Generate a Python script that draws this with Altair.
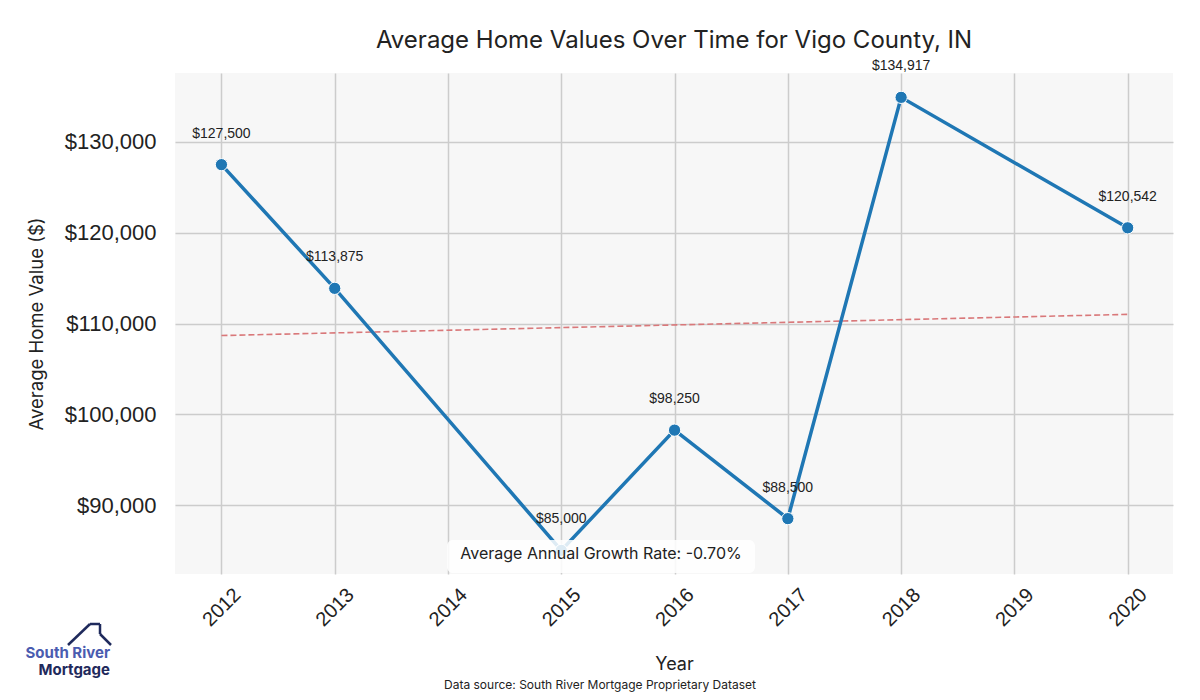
import altair as alt
import pandas as pd

years = [2012, 2013, 2015, 2016, 2017, 2018, 2020]
values = [127500, 113875, 85000, 98250, 88500, 134917, 120542]
tick_years = [2012, 2013, 2014, 2015, 2016, 2017, 2018, 2019, 2020]
y_ticks = [90000, 100000, 110000, 120000, 130000]
growth_text = "Average Annual Growth Rate: -0.70%"
source_text = "Data source: South River Mortgage Proprietary Dataset"

df = pd.DataFrame({"year": years, "value": values})

W, H = 998, 501
LABEL_FONT = "Liberation Sans"
TITLE_FONT = "Inter"

x_enc = alt.X("year:Q", scale=alt.Scale(domain=[2011.59, 2020.4], nice=False, zero=False),
              axis=alt.Axis(values=tick_years, format="d", labelAngle=-45, labelAlign="center",
                            labelBaseline="middle", labelPadding=33, labelFontSize=20,
                            labelFont=LABEL_FONT, labelColor="#222222", ticks=False, domain=False,
                            grid=True, gridColor="#cccccc", gridWidth=1.5,
                            title="Year", titleFontSize=18, titleFont=TITLE_FONT,
                            titleFontWeight="normal", titleColor="#222222", titlePadding=26))
y_enc = alt.Y("value:Q", scale=alt.Scale(domain=[82400, 137600], nice=False, zero=False),
              axis=alt.Axis(values=y_ticks, format="$,.0f", labelFontSize=22, labelFont=LABEL_FONT,
                            labelColor="#222222", labelPadding=19, ticks=False, domain=False,
                            grid=True, gridColor="#cccccc", gridWidth=1.5,
                            title="Average Home Value ($)", titleFontSize=18.5, titleFont=TITLE_FONT,
                            titleFontWeight="normal", titleColor="#222222", titlePadding=18))

base = alt.Chart(df)

trend = base.transform_regression("year", "value").mark_line(
    color="#d9787a", strokeWidth=1.6, strokeDash=[6, 3]
).encode(x=x_enc, y=y_enc)

line = base.mark_line(color="#1f77b4", strokeWidth=3.5).encode(x=x_enc, y=y_enc)
pts = base.mark_point(filled=True, size=150, color="#1f77b4", stroke="white",
                      strokeWidth=1, opacity=1).encode(x=x_enc, y=y_enc)
labels = base.mark_text(dy=-31, fontSize=14, font=LABEL_FONT, color="#222222").encode(
    x=x_enc, y=y_enc, text=alt.Text("value:Q", format="$,.0f"))

one = alt.Data(values=[{"a": 1}])

box = alt.Chart(one).mark_rect(fill="white", opacity=0.85, cornerRadius=6).encode(
    x=alt.value(272), x2=alt.value(580), y=alt.value(467), y2=alt.value(500))
box_text = alt.Chart(one).mark_text(fontSize=16, font=TITLE_FONT, color="#222222",
                                    align="center", baseline="middle").encode(
    x=alt.value(426), y=alt.value(481), text=alt.value(growth_text))

src = alt.Chart(one).mark_text(fontSize=12, font=TITLE_FONT, color="#222222",
                               align="center", baseline="middle").encode(
    x=alt.value(425), y=alt.value(612), text=alt.value(source_text))

logo1 = alt.Chart(one).mark_text(fontSize=15, font=TITLE_FONT, fontWeight="bold", color="#4a5cb0",
                                 align="right", baseline="middle").encode(
    x=alt.value(-65), y=alt.value(580), text=alt.value("South River"))
logo2 = alt.Chart(one).mark_text(fontSize=15, font=TITLE_FONT, fontWeight="bold", color="#1f2a5c",
                                 align="right", baseline="middle").encode(
    x=alt.value(-65), y=alt.value(597), text=alt.value("Mortgage"))

roof_segments = [
    (-107, 572, -85, 551),
    (-85, 551, -75, 551),
    (-75, 551, -75, 561),
    (-75, 561, -64, 572),
]
roof = [alt.Chart(one).mark_rule(color="#1f2a5c", strokeWidth=2.5).encode(
    x=alt.value(a), y=alt.value(b), x2=alt.value(c), y2=alt.value(d)) for a, b, c, d in roof_segments]

chart = alt.layer(trend, line, pts, labels, box, box_text, src, logo1, logo2, *roof).properties(
    width=W, height=H,
    title=alt.TitleParams("Average Home Values Over Time for Vigo County, IN", fontSize=24,
                          font=TITLE_FONT, fontWeight="normal", color="#222222", offset=6, anchor="middle"),
    autosize=alt.AutoSizeParams(type="none"),
    padding={"left": 167, "top": 65, "right": 19, "bottom": 118},
).configure_view(fill="#f7f7f7", stroke=None)

chart.save("out.html", embed_options={"renderer": "svg", "actions": False})
